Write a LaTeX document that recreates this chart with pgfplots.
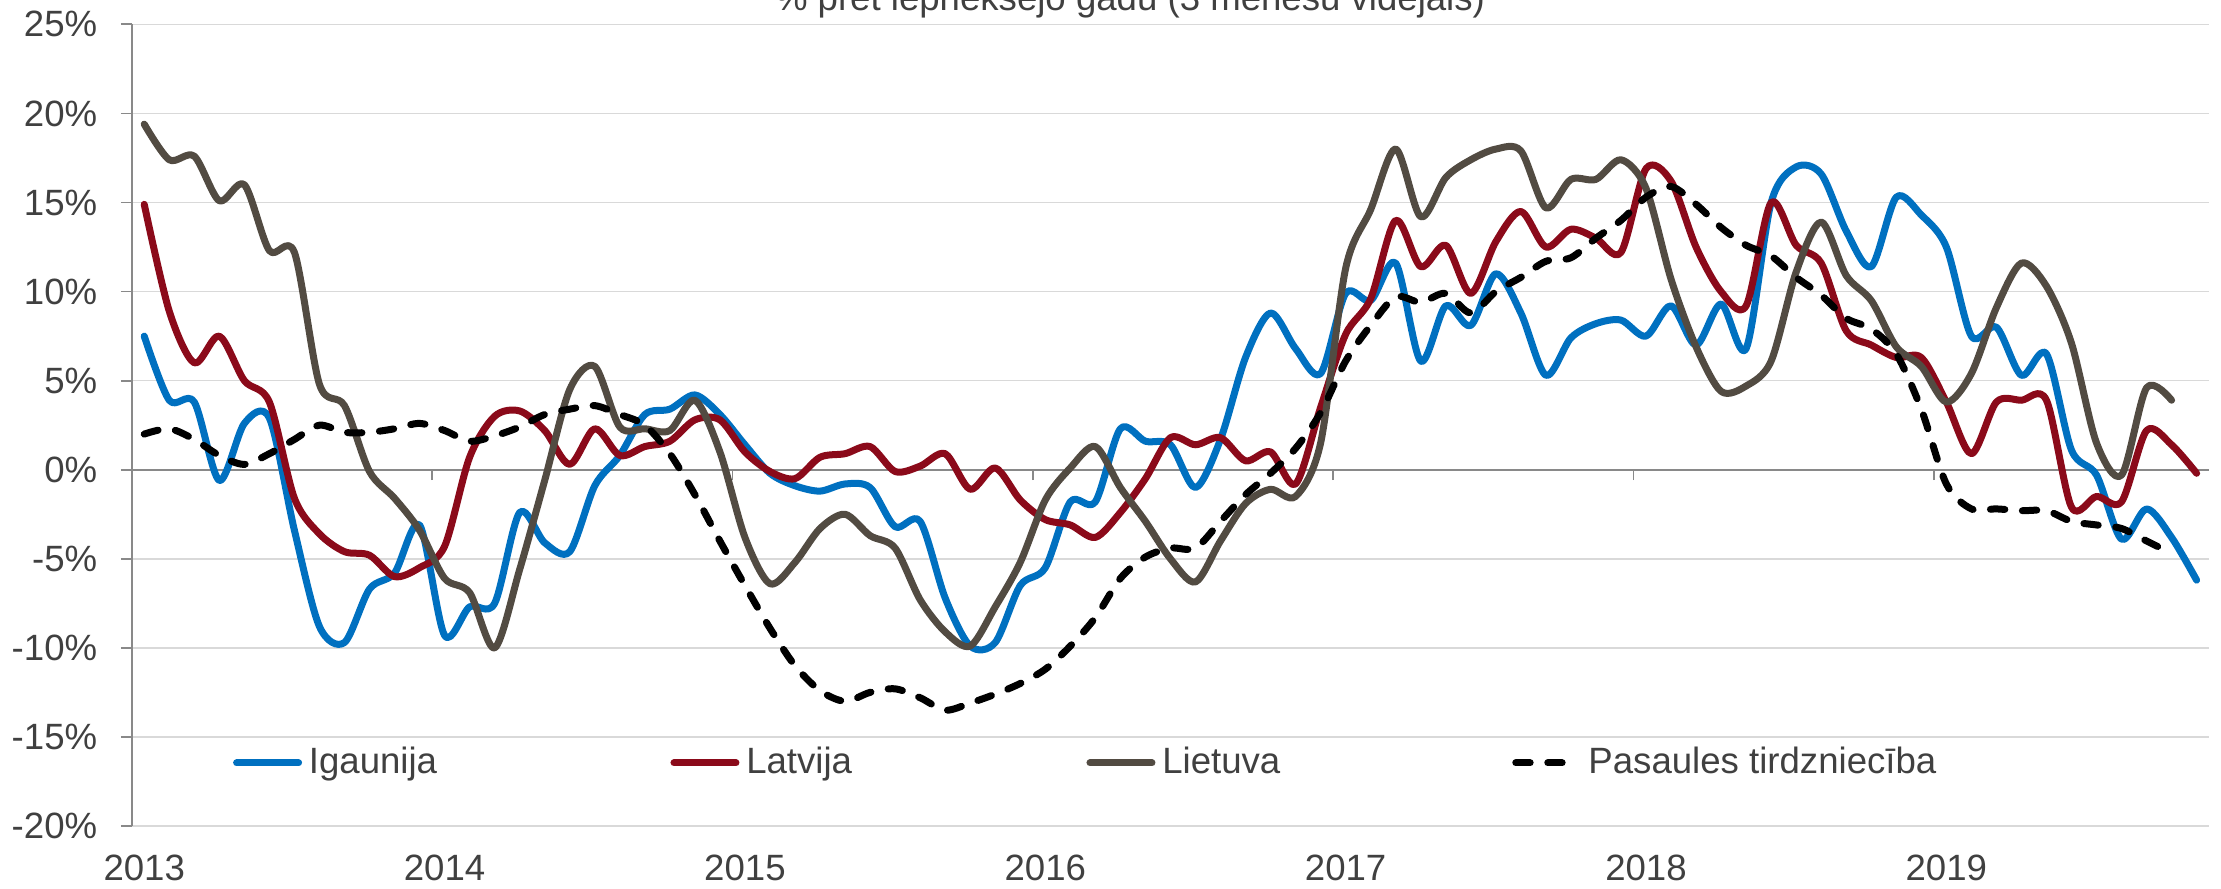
\documentclass[border=0pt]{standalone}
\usepackage{fontspec}
\setmainfont{Liberation Sans}
\usepackage{pgfplots}
\usepackage{pgfplotstable}
\pgfplotsset{compat=1.18}
\definecolor{cblue}{HTML}{0070C0}
\definecolor{cred}{HTML}{8B0A1A}
\definecolor{cgray}{HTML}{524B42}
\definecolor{gridgray}{HTML}{D9D9D9}
\definecolor{axisgray}{HTML}{898989}
\definecolor{textgray}{HTML}{404040}
\newcommand\lbl{\fontsize{9.15pt}{11pt}\selectfont}

\pgfplotstableread{
m ig la li pa
0 7.5 14.9 19.4 2.0
1 3.9 8.9 17.4 2.3
2 3.8 6.0 17.6 1.7
3 -0.6 7.5 15.1 0.8
4 2.6 5.0 16.0 0.3
5 2.9 3.8 12.3 0.9
6 -3.4 -1.6 12.2 1.7
7 -8.8 -3.6 4.8 2.5
8 -9.7 -4.6 3.6 2.1
9 -6.7 -4.8 -0.1 2.1
10 -5.8 -6.0 -1.6 2.3
11 -3.1 -5.5 -3.4 2.6
12 -9.3 -4.3 -6.1 2.2
13 -7.7 0.7 -6.9 1.6
14 -7.5 3.0 -10.0 1.9
15 -2.4 3.3 -5.6 2.4
16 -4.1 2.2 -0.6 3.1
17 -4.6 0.3 4.5 3.4
18 -0.9 2.3 5.8 3.6
19 0.8 0.8 2.4 3.1
20 3.1 1.3 2.3 2.5
21 3.4 1.6 2.2 0.9
22 4.2 2.8 3.9 -1.4
23 3.1 2.8 1.0 -4.0
24 1.4 1.0 -3.8 -6.5
25 -0.2 -0.1 -6.4 -8.9
26 -0.9 -0.5 -5.2 -11.0
27 -1.2 0.7 -3.3 -12.4
28 -0.8 0.9 -2.5 -13.0
29 -1.0 1.3 -3.7 -12.5
30 -3.2 -0.1 -4.4 -12.3
31 -2.9 0.2 -7.3 -12.8
32 -7.2 0.9 -9.1 -13.5
33 -9.9 -1.1 -9.9 -13.1
34 -9.7 0.1 -7.7 -12.6
35 -6.5 -1.7 -5.2 -12.0
36 -5.5 -2.8 -1.7 -11.2
37 -1.8 -3.1 0.1 -9.9
38 -1.8 -3.8 1.3 -8.3
39 2.3 -2.4 -1.0 -6.1
40 1.6 -0.5 -2.9 -4.9
41 1.4 1.8 -5.0 -4.4
42 -1.0 1.4 -6.3 -4.4
43 1.7 1.8 -4.0 -2.9
44 6.3 0.5 -1.9 -1.4
45 8.8 1.0 -1.1 -0.2
46 6.8 -0.8 -1.5 1.2
47 5.4 3.5 1.5 3.2
48 9.9 7.6 11.3 6.1
49 9.5 9.6 14.6 8.1
50 11.6 14.0 18.0 9.7
51 6.1 11.4 14.2 9.4
52 9.2 12.6 16.4 9.9
53 8.1 9.9 17.4 8.8
54 11.0 12.8 18.0 10.0
55 8.8 14.5 17.9 10.8
56 5.3 12.5 14.7 11.7
57 7.4 13.5 16.3 11.9
58 8.2 13.0 16.3 13.0
59 8.4 12.2 17.4 14.0
60 7.5 16.9 15.8 15.3
61 9.2 16.2 10.7 15.9
62 7.0 12.5 6.9 14.9
63 9.3 10.0 4.4 13.6
64 6.8 9.2 4.7 12.6
65 15.0 15.0 6.1 12.0
66 17.0 12.6 11.1 10.8
67 16.6 11.6 13.9 9.8
68 13.4 7.8 10.9 8.5
69 11.4 7.0 9.5 7.9
70 15.3 6.3 6.9 6.5
71 14.3 6.3 5.8 3.4
72 12.5 3.8 3.8 -0.8
73 7.5 0.9 5.4 -2.2
74 8.0 3.8 9.1 -2.2
75 5.3 3.9 11.6 -2.3
76 6.5 3.9 10.3 -2.3
77 1.1 -2.1 7.1 -2.9
78 -0.3 -1.5 1.5 -3.1
79 -3.9 -1.8 -0.3 -3.3
80 -2.2 2.2 4.6 -4.0
81 -3.8 1.4 3.9 -4.7
82 -6.2 -0.2 nan nan
}\datatable

\pgfplotsset{base/.style={scale only axis, width=519.37pt, height=200.4pt,
  at={(32.93pt,15.75pt)}, anchor=south west,
  xmin=-0.5, xmax=82.5, ymin=-20, ymax=25}}

\begin{document}
\begin{tikzpicture}
\path[use as bounding box, clip] (0,0) rectangle (555.25pt,222.25pt);

% grid and y axis
\begin{axis}[base,
  axis x line=none, axis y line=left,
  axis line style={-, draw=axisgray, line width=0.45pt},
  xtick=\empty,
  ytick={-20,-15,-10,-5,0,5,10,15,20,25},
  yticklabels={-20\%,-15\%,-10\%,-5\%,0\%,5\%,10\%,15\%,20\%,25\%},
  ymajorgrids, grid style={draw=gridgray, line width=0.4pt},
  ytick align=outside, major tick length=2.7pt,
  ytick style={draw=axisgray, line width=0.45pt},
  yticklabel style={font=\lbl, text=textgray, xshift=-2.4pt}]
\end{axis}

% zero line with year ticks
\begin{axis}[base,
  axis x line=middle, axis y line=none,
  axis line style={-, draw=axisgray, line width=0.45pt},
  every inner x axis line/.append style={-},
  ytick=\empty,
  xtick={11.5,23.5,35.5,47.5,59.5,71.5}, xticklabels={,,,,,},
  xticklabel style={text opacity=0},
  xtick align=outside, major tick length=2.6pt,
  xtick style={draw=axisgray, line width=0.45pt}]
\end{axis}

% data
\begin{axis}[base,
  axis x line=bottom, axis y line=none,
  x axis line style={draw=none}, ytick=\empty,
  xtick={0,12,24,36,48,60,72},
  xticklabels={2013,2014,2015,2016,2017,2018,2019},
  xtick style={draw=none},
  xticklabel style={font=\lbl, text=textgray, yshift=-1.6pt},
  legend columns=4,
  legend style={at={(axis cs:3.55,-16.46)}, anchor=west, draw=none, fill=none,
    inner sep=0pt, outer sep=0pt, column sep=0pt,
    nodes={inner sep=0pt, outer sep=0pt}, font=\lbl, text=textgray},
  legend image code/.code={\draw[#1, line cap=round] (0pt,0pt) -- (15.5pt,0pt);},
  every axis plot/.append style={line width=1.75pt, smooth, line cap=round, line join=round}]
\addplot[cblue] table[x=m, y=ig] {\datatable};
\addlegendentry{\makebox[92.1pt][l]{\hspace{1.7pt}Igaunija}}
\addplot[cred] table[x=m, y=la] {\datatable};
\addlegendentry{\makebox[86.75pt][l]{\hspace{1.7pt}Latvija}}
\addplot[cgray] table[x=m, y=li] {\datatable};
\addlegendentry{\makebox[89.2pt][l]{\hspace{1.7pt}Lietuva}}
\addplot[black, dash pattern=on 3.6pt off 4.4pt] table[x=m, y=pa] {\datatable};
\addlegendentry{\hspace{1.8pt}Pasaules tirdzniecība}
\end{axis}

\node[anchor=base, font=\lbl, text=textgray] at (282.5pt,219.5pt) {\% pret iepriekšējo gadu (3 mēnešu vidējais)};
\end{tikzpicture}
\end{document}
